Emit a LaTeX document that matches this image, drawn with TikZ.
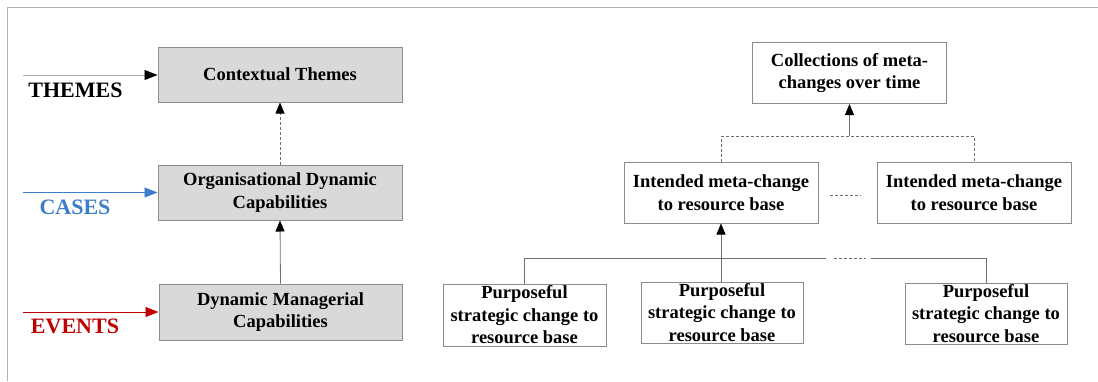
\documentclass[tikz,border=0pt]{standalone}
\usepackage{fontspec}
\setmainfont{Liberation Serif}
\usetikzlibrary{arrows.meta,calc}
\definecolor{boxgray}{HTML}{D9D9D9}
\definecolor{edgegray}{HTML}{8C8C8C}
\definecolor{linegray}{HTML}{6E6E6E}
\definecolor{casesblue}{HTML}{3D7DCA}
\definecolor{eventsred}{HTML}{C00000}
\tikzset{
  levelbox/.style={draw=edgegray, fill=boxgray, line width=1pt, align=center,
    inner sep=0pt, font=\fontsize{18.5}{22.5}\selectfont\bfseries},
  plainbox/.style={draw=edgegray, fill=white, line width=1pt, align=center,
    inner sep=0pt, font=\fontsize{18.5}{22.5}\selectfont\bfseries},
  sidelabel/.style={font=\fontsize{22}{26}\selectfont\bfseries, inner sep=0pt},
  link/.style={draw=linegray, line width=0.8pt},
  dashlink/.style={draw=linegray, line width=0.8pt, dash pattern=on 3pt off 2pt},
  tip/.style={-{Triangle[length=11pt,width=9pt,color=black]}},
}
\begin{document}
\begin{tikzpicture}[x=1pt,y=-1pt]
\useasboundingbox (0,0) rectangle (1098,381);
% outer frame (top and left rules)
\draw[draw=gray!60, line width=1pt] (7,381) -- (7,7) -- (1098,7);

% ---- left hierarchy ----
\node[levelbox, minimum width=244pt, minimum height=55pt] (ctx) at (280,74.5) {Contextual Themes};
\node[levelbox, minimum width=244pt, minimum height=55pt] (org) at (280,192.5) {Organisational Dynamic\\Capabilities};
\node[levelbox, minimum width=243pt, minimum height=56pt] (dmc) at (280.5,312) {Dynamic Managerial\\Capabilities};

\node[sidelabel, text=black] (themes) at (75.5,90) {THEMES};
\node[sidelabel, text=casesblue] (cases) at (75,207) {CASES};
\node[sidelabel, text=eventsred] (events) at (75,326) {EVENTS};

\coordinate (tstart) at (23,75);
\coordinate (cstart) at (23,192.5);
\coordinate (estart) at (23,312);
\draw[line width=0.8pt, draw=gray!60, -{Triangle[length=13pt,width=10pt,color=black]}] (tstart) -- (tstart -| ctx.west);
\draw[line width=0.8pt, draw=casesblue, -{Triangle[length=13pt,width=10pt]}] (cstart) -- (cstart -| org.west);
\draw[line width=0.8pt, draw=eventsred, -{Triangle[length=13pt,width=10pt]}] (estart) -- (estart -| dmc.west);

\draw[dashlink, tip] (org.north) -- (ctx.south);
\draw[link, tip] (dmc.north) -- (org.south);

% ---- right hierarchy ----
\node[plainbox, minimum width=194pt, minimum height=61pt] (coll) at (849.5,73) {Collections of meta-\\changes over time};
\node[plainbox, minimum width=194pt, minimum height=61pt] (im1) at (721,192.5) {Intended meta-change\\to resource base};
\node[plainbox, minimum width=194pt, minimum height=61pt] (im2) at (974,192.5) {Intended meta-change\\to resource base};

\node[plainbox, minimum width=163pt, minimum height=62pt] (p1) at (524.5,315) {Purposeful\\strategic change to\\resource base};
\node[plainbox, minimum width=162pt, minimum height=61pt] (p2) at (722,312.5) {Purposeful\\strategic change to\\resource base};
\node[plainbox, minimum width=162pt, minimum height=61pt] (p3) at (986,313.5) {Purposeful\\strategic change to\\resource base};

% meta-changes gathered into the collection
\coordinate (topbus) at (849.5,136);
\draw[dashlink] (im1.north) |- (topbus) -| (im2.north);
\draw[link, tip] (topbus) -- (coll.south);
\coordinate (gapa) at (830,195);
\coordinate (gapb) at (861,195);
\draw[dashlink] (gapa) -- (gapb);

% strategic changes gathered into the first meta-change
\coordinate (busa) at (826,258);
\coordinate (busb) at (834,258);
\coordinate (busc) at (866,258);
\coordinate (busd) at (871,258);
\draw[link] (p1.north) |- (busa);
\draw[dashlink] (busb) -- (busc);
\draw[link] (busd) -| (p3.north);
\draw[link, tip] (p2.north -| im1.south) -- (im1.south);
\end{tikzpicture}
\end{document}
